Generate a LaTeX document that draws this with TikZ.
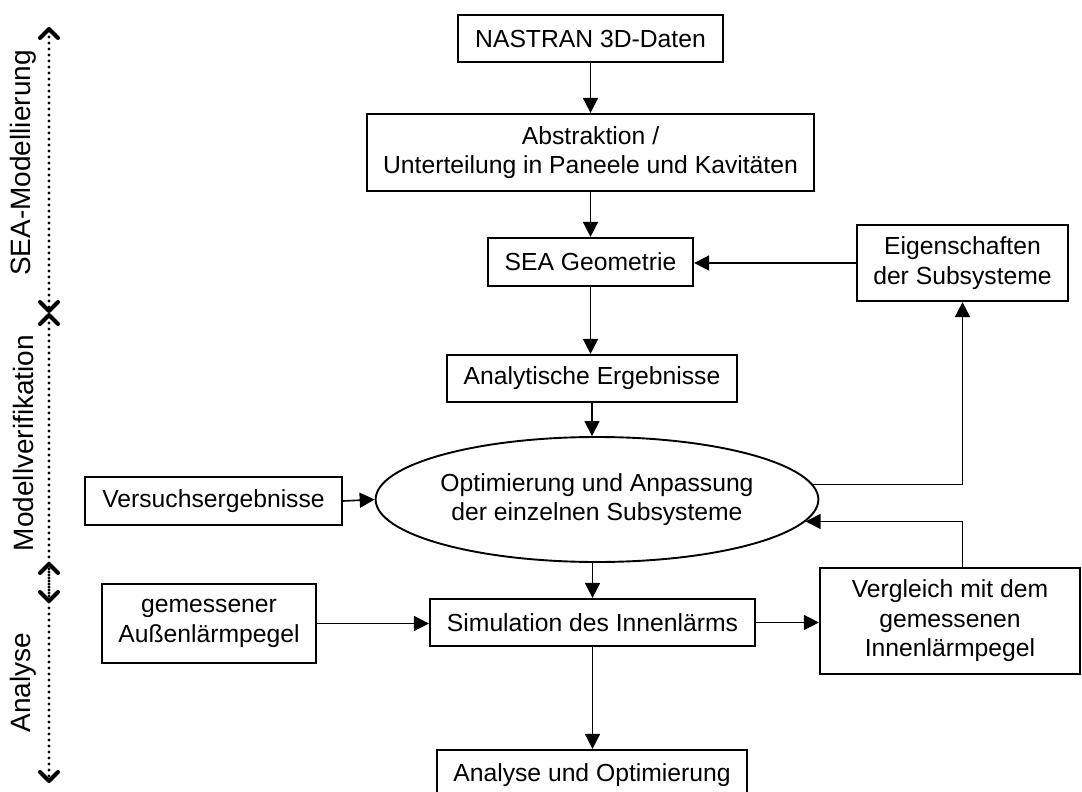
\documentclass[tikz,border=0pt]{standalone}
\usepackage{fontspec}
\setmainfont{Liberation Sans}
\usetikzlibrary{arrows.meta,shapes.geometric}
\begin{document}
\begin{tikzpicture}[x=1pt,y=-1pt,
  every node/.style={font=\fontsize{24.7}{29.5}\selectfont, align=center, inner sep=0pt},
  box/.style={draw, line width=2.2pt, rectangle},
  oval/.style={draw, line width=1.9pt, ellipse},
  conn/.style={line width=1.6pt, -{Triangle[length=15pt,width=15pt]}},
  barb/.tip={Straight Barb[length=9pt,width=18pt,line width=4pt,round]},
  axis/.style={line width=3.3pt, dash pattern=on 0pt off 6pt, line cap=round, barb-barb},
  phase/.style={rotate=90, font=\fontsize{28}{32}\selectfont}]
\useasboundingbox (0,0) rectangle (1082,792);

% boxes
\node[box, minimum width=265pt, minimum height=47pt] (nastran) at (590.5,38.5) {NASTRAN 3D-Daten};
\node[box, minimum width=447pt, minimum height=77pt] (abstr) at (590.5,152.5) {Abstraktion /\\Unterteilung in Paneele und Kavitäten};
\node[box, minimum width=205pt, minimum height=48pt] (seageo) at (590.5,262) {SEA Geometrie};
\node[box, minimum width=211pt, minimum height=76pt] (eigen) at (962.5,263) {Eigenschaften\\der Subsysteme};
\node[box, minimum width=290pt, minimum height=47pt] (analyt) at (592,378.5) {Analytische Ergebnisse};
\node[oval, minimum width=362pt, minimum height=125pt] (opt) at (597,499.5) {Optimierung und Anpassung\\der einzelnen Subsysteme};
\node[box, minimum width=257pt, minimum height=48pt] (versuch) at (213.5,501) {Versuchsergebnisse};
\node[box, minimum width=214pt, minimum height=79pt] (gem) at (209,623.5) {gemessener\\Außenlärmpegel};
\node[box, minimum width=325pt, minimum height=47pt] (sim) at (592.5,622.5) {Simulation des Innenlärms};
\node[box, minimum width=260pt, minimum height=106pt] (vergl) at (950,621) {Vergleich mit dem\\gemessenen\\Innenlärmpegel};
\node[box, minimum width=310pt, minimum height=50pt] (analyse) at (592,775) {Analyse und Optimierung};

% connectors
\draw[conn] (nastran.south) -- (nastran.south |- abstr.north);
\draw[conn] (abstr.south) -- (abstr.south |- seageo.north);
\draw[conn] (eigen.west) -- (eigen.west -| seageo.east);
\draw[conn] (seageo.south) -- (seageo.south |- analyt.north);
\draw[conn] (analyt.south) -- (analyt.south |- opt.north);
\draw[conn] (versuch.east) -- (opt.west);
\draw[conn] (opt.4) -| (eigen.south);
\draw[conn] (eigen.south |- vergl.north) |- (opt.-6);
\draw[conn] (opt.south -| sim.north) -- (sim.north);
\draw[conn] (gem.east) -- (gem.east -| sim.west);
\draw[conn] (sim.east) -- (sim.east -| vergl.west);
\draw[conn] (sim.south) -- (sim.south |- analyse.north);

% phase axis
\coordinate (a1) at (49,27);
\coordinate (a2) at (49,313);
\coordinate (a3) at (49,603);
\coordinate (a4) at (49,562);
\coordinate (a5) at (49,783);
\draw[axis] (a1) -- (a2);
\draw[axis] (a2) -- (a3);
\draw[axis] (a4) -- (a5);
\node[phase] (p1) at (23,163) {SEA-Modellierung};
\node[phase] (p2) at (23,443) {Modellverifikation};
\node[phase] (p3) at (23,682.5) {Analyse};
\end{tikzpicture}
\end{document}
